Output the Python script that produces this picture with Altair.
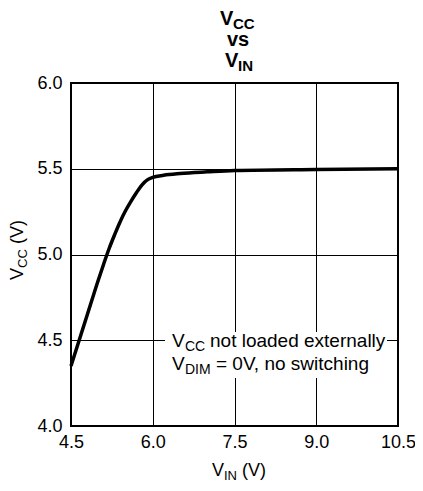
import altair as alt
import pandas as pd

# ---- data ----
vin = [4.5, 4.8, 5.0, 5.1, 5.2, 5.3, 5.4, 5.5, 5.6, 5.7, 5.8, 5.9, 6.0, 6.2, 6.5, 7.0, 7.5, 9.0, 10.5]
vcc = [4.35, 4.65, 4.85, 4.945, 5.035, 5.115, 5.19, 5.255, 5.31, 5.36, 5.405, 5.435, 5.45,
       5.462, 5.472, 5.482, 5.49, 5.496, 5.50]
x_ticks = [4.5, 6.0, 7.5, 9.0, 10.5]
y_ticks = [4.0, 4.5, 5.0, 5.5, 6.0]

FONT = "Liberation Sans"
W, H = 327, 343

df = pd.DataFrame({"vin": vin, "vcc": vcc})

base = alt.Chart(df)
line = base.mark_line(color="black", strokeWidth=3.5, interpolate="monotone").encode(
    x=alt.X("vin:Q", scale=alt.Scale(domain=[4.5, 10.5], nice=False, zero=False),
            axis=alt.Axis(values=x_ticks, format=".1f", title=None, grid=True,
                          gridColor="black", gridWidth=1, gridOpacity=1,
                          ticks=False, domain=False, labelFont=FONT, labelFontSize=18,
                          labelColor="black", labelPadding=7, labelFlush=False)),
    y=alt.Y("vcc:Q", scale=alt.Scale(domain=[4.0, 6.0], nice=False, zero=False),
            axis=alt.Axis(values=y_ticks, format=".1f", title=None, grid=True,
                          gridColor="black", gridWidth=1, gridOpacity=1,
                          ticks=False, domain=False, labelFont=FONT, labelFontSize=18,
                          labelColor="black", labelPadding=9, labelFlush=False)),
)

one = alt.Data(values=[{}])


def txt(s, x, y, size, bold=False, angle=0, align="left"):
    return alt.Chart(one).mark_text(
        text=s, font=FONT, fontSize=size, fontWeight="bold" if bold else "normal",
        align=align, baseline="alphabetic", angle=angle, color="black",
    ).encode(x=alt.value(x), y=alt.value(y))


box = alt.Chart(one).mark_rect(color="white").encode(
    x=alt.value(94), x2=alt.value(316), y=alt.value(249), y2=alt.value(295)
)

layers = [line, box]
# title
layers += [
    txt("V", 149, -58, 20, bold=True),
    txt("CC", 162, -54, 15, bold=True),
    txt("vs", 167, -37, 20, bold=True, align="center"),
    txt("V", 154, -16, 20, bold=True),
    txt("IN", 167, -12, 15, bold=True),
]
# x axis title
layers += [
    txt("V", 141, 393, 18),
    txt("IN", 153, 397, 13),
    txt("(V)", 171, 393, 18),
]
# y axis title (rotated)
layers += [
    txt("V", -48, 197, 18, angle=270),
    txt("CC", -44, 185, 13, angle=270),
    txt("(V)", -48, 161, 18, angle=270),
]
# annotation
layers += [
    txt("V", 101, 264, 19),
    txt("CC", 114, 268, 14),
    txt("not loaded externally", 139, 264, 19),
    txt("V", 101, 287, 19),
    txt("DIM", 114, 291, 14),
    txt("= 0V, no switching", 145, 287, 19),
]

chart = alt.layer(*layers).properties(
    width=W, height=H,
    autosize=alt.AutoSizeParams(type="none"),
    padding={"left": 63, "top": 75, "right": 17, "bottom": 57},
    background="white",
).configure_view(stroke="black", strokeWidth=2)

chart.save("out.html", embed_options={"renderer": "svg", "actions": False})
